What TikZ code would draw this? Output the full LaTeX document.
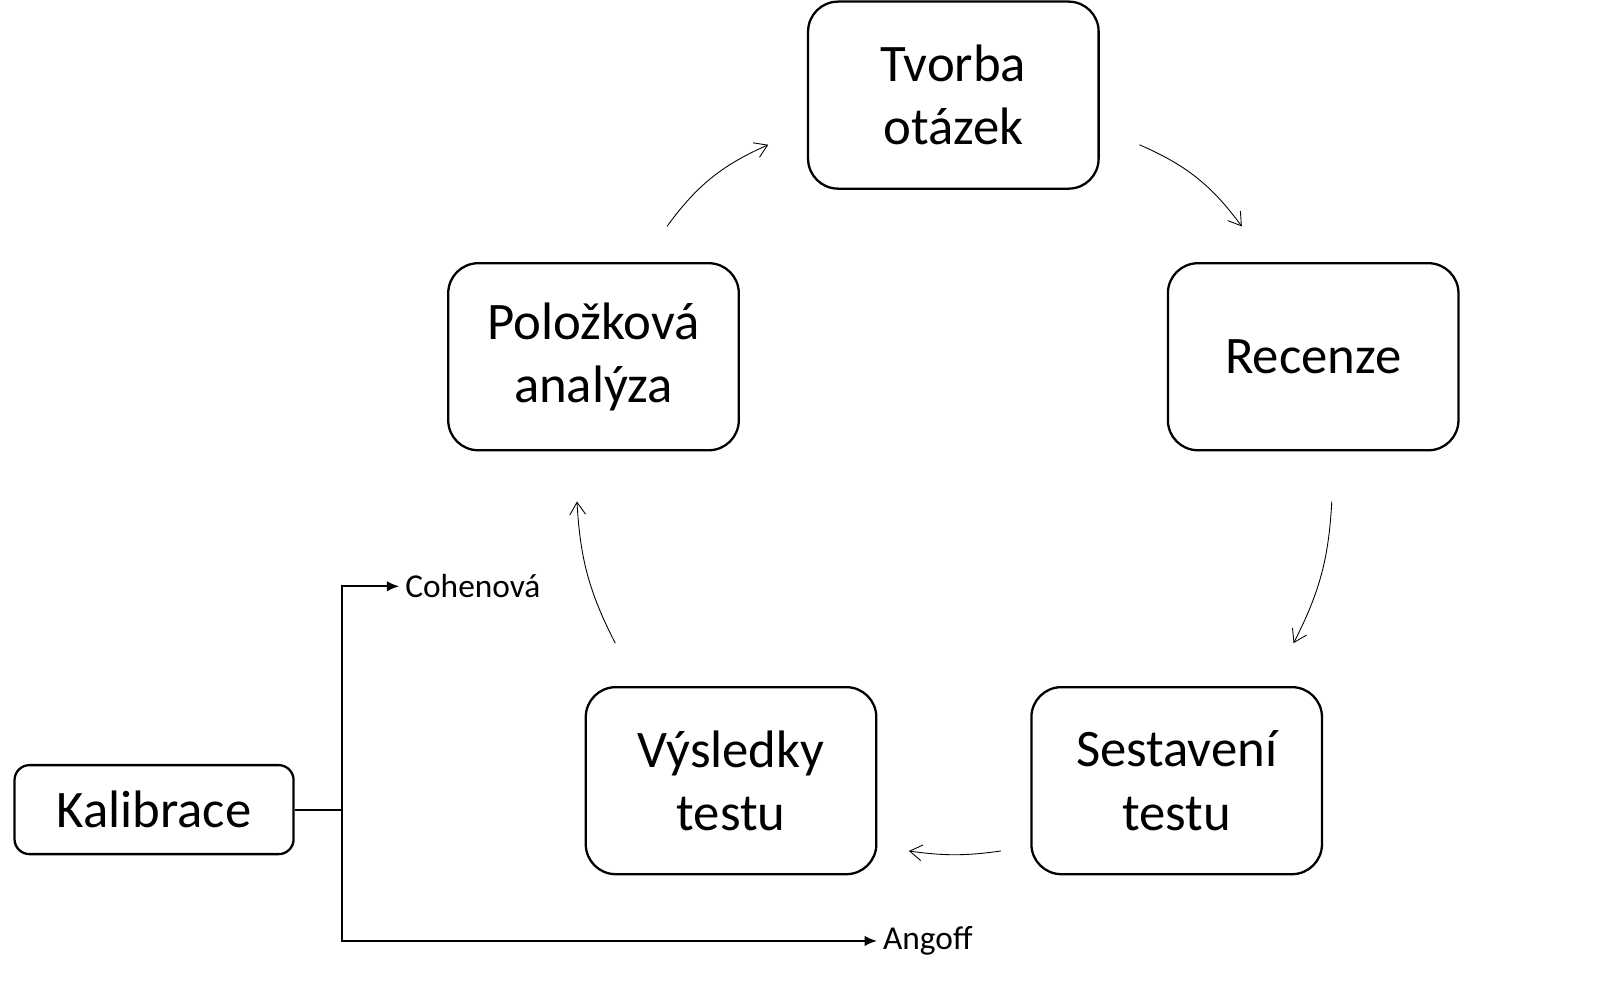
\documentclass[tikz,border=0pt]{standalone}
\usepackage{fontspec}
\setmainfont{Carlito}
\usetikzlibrary{arrows.meta}
\begin{document}
\begin{tikzpicture}[x=0.02068cm,y=-0.02068cm,
  box/.style={draw,line width=1.3pt,rounded corners=0.6cm,minimum width=5.81cm,minimum height=3.74cm,align=center,font=\fontsize{30}{36}\selectfont},
  cyc/.style={line width=0.5pt,-{Straight Barb[length=7pt,width=9pt]}},
  br/.style={line width=1pt},
  lbl/.style={font=\fontsize{19}{22}\selectfont,anchor=west}]
\useasboundingbox (0,0) rectangle (1567.7,953.6);
\node[box] (t) at (922,92) {Tvorba\\otázek};
\node[box] (r) at (1270,345) {Recenze};
\node[box] (s) at (1138,755) {Sestavení\\testu};
\node[box] (v) at (707,755) {Výsledky\\testu};
\node[box] (p) at (574,345) {Položková\\analýza};
\node[box,minimum width=5.58cm,minimum height=1.78cm,rounded corners=0.3cm] (k) at (149,783) {Kalibrace};
\coordinate (a1) at (645,219); \coordinate (b1) at (743,140);
\coordinate (a2) at (1102,140); \coordinate (b2) at (1201,219);
\coordinate (a3) at (1288,485); \coordinate (b3) at (1251,622);
\coordinate (a4) at (968,823); \coordinate (b4) at (879,823);
\coordinate (a5) at (595,622); \coordinate (b5) at (558,485);
\draw[cyc] (a1) to[bend left=15] (b1);
\draw[cyc] (a2) to[bend left=15] (b2);
\draw[cyc] (a3) to[bend left=12] (b3);
\draw[cyc] (a4) to[bend left=8] (b4);
\draw[cyc] (a5) to[bend left=12] (b5);
\node[lbl] (c) at (386,567) {Cohenová};
\node[lbl] (an) at (848,910) {Angoff};
\coordinate (j) at (331,783);
\draw[br] (k.east) -- (j);
\draw[br,-{Latex[length=7pt,width=6pt]}] (j) |- (c.west);
\draw[br,-{Latex[length=7pt,width=6pt]}] (j) |- (an.west);
\end{tikzpicture}
\end{document}
